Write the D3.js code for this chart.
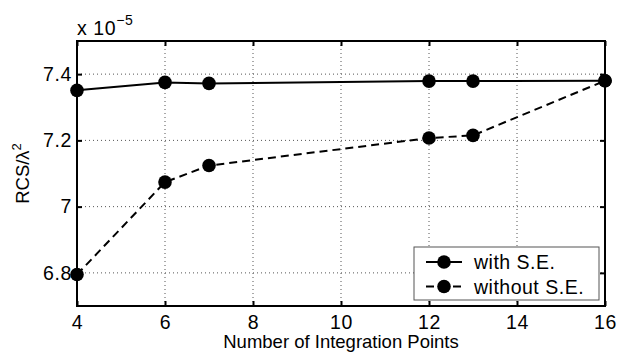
<!DOCTYPE html>
<html>
<head>
<meta charset="utf-8">
<script src="https://cdn.jsdelivr.net/npm/d3@7"></script>
<style>
  body { margin: 0; background: #fff; }
  text { font-family: "Liberation Sans", Arial, sans-serif; fill: #000; }
</style>
</head>
<body>
<script>
// data (values are x 1e-5)
var points = [4, 6, 7, 12, 13, 16];
var withSE = [7.351, 7.375, 7.372, 7.379, 7.379, 7.380];
var withoutSE = [6.795, 7.074, 7.124, 7.207, 7.215, 7.380];
var xTicks = [4, 6, 8, 10, 12, 14, 16];
var yTicks = [6.8, 7, 7.2, 7.4];
var seriesNames = ["with S.E.", "without S.E."];

var W = 619, H = 354;
var m = {left: 77, right: 14, top: 41, bottom: 48};

var svg = d3.select("body").append("svg")
  .attr("width", W).attr("height", H);

var x = d3.scaleLinear().domain([4, 16]).range([m.left, W - m.right]);
var y = d3.scaleLinear().domain([6.7, 7.5]).range([H - m.bottom, m.top]);

var fs = 19.5;

// dotted grid
svg.append("g").selectAll("line").data(xTicks.slice(1, -1)).join("line")
  .attr("x1", d => x(d)).attr("x2", d => x(d))
  .attr("y1", m.top).attr("y2", H - m.bottom)
  .attr("stroke", "#555").attr("stroke-width", 1).attr("stroke-dasharray", "1,3");
svg.append("g").selectAll("line").data(yTicks).join("line")
  .attr("x1", m.left).attr("x2", W - m.right)
  .attr("y1", d => y(d)).attr("y2", d => y(d))
  .attr("stroke", "#555").attr("stroke-width", 1).attr("stroke-dasharray", "1,3");

// axes (ticks inside, like matlab)
svg.append("g").attr("transform", "translate(0," + (H - m.bottom) + ")")
  .call(d3.axisBottom(x).tickValues(xTicks).tickSizeInner(-5).tickSizeOuter(0).tickPadding(9))
  .call(g => g.select(".domain").remove());
svg.append("g").attr("transform", "translate(0," + m.top + ")")
  .call(d3.axisTop(x).tickValues(xTicks).tickSizeInner(-5).tickSizeOuter(0).tickFormat(""))
  .call(g => g.select(".domain").remove());
svg.append("g").attr("transform", "translate(" + m.left + ",0)")
  .call(d3.axisLeft(y).tickValues(yTicks).tickSizeInner(-5).tickSizeOuter(0).tickPadding(5)
    .tickFormat(d => d === 7 ? "7" : d3.format(".1f")(d)))
  .call(g => g.select(".domain").remove());
svg.append("g").attr("transform", "translate(" + (W - m.right) + ",0)")
  .call(d3.axisRight(y).tickValues(yTicks).tickSizeInner(-5).tickSizeOuter(0).tickFormat(""))
  .call(g => g.select(".domain").remove());

svg.selectAll(".tick line").attr("stroke", "#000").attr("stroke-width", 2);
svg.selectAll(".tick text").style("font-size", fs + "px").style("letter-spacing", "0.6px")
  .style("font-family", "'Liberation Sans', Arial, sans-serif").attr("fill", "#000");

// frame
svg.append("rect")
  .attr("x", m.left).attr("y", m.top)
  .attr("width", W - m.left - m.right).attr("height", H - m.top - m.bottom)
  .attr("fill", "none").attr("stroke", "#000").attr("stroke-width", 2);

// series
var line = d3.line().x(d => x(d[0])).y(d => y(d[1]));
var series = [
  {vals: withSE, dash: null},
  {vals: withoutSE, dash: "8,5"}
];
series.forEach(function(s) {
  var pts = points.map((p, i) => [p, s.vals[i]]);
  svg.append("path").datum(pts)
    .attr("d", line).attr("fill", "none")
    .attr("stroke", "#000").attr("stroke-width", 2)
    .attr("stroke-dasharray", s.dash);
  svg.append("g").selectAll("circle").data(pts).join("circle")
    .attr("cx", d => x(d[0])).attr("cy", d => y(d[1])).attr("r", 6.8)
    .attr("fill", "#000");
});

// exponent
var ex = svg.append("text").attr("x", m.left).attr("y", 35)
  .style("font-size", fs + "px").style("letter-spacing", "0.6px");
ex.append("tspan").text("x 10");
ex.append("tspan").attr("dy", -10).style("font-size", "14px").text("\u22125");

// axis labels
svg.append("text").attr("x", (m.left + W - m.right) / 2).attr("y", 348)
  .attr("text-anchor", "middle").style("font-size", "18.5px")
  .text("Number of Integration Points");
var yl = svg.append("text")
  .attr("transform", "translate(29," + ((m.top + H - m.bottom) / 2) + ") rotate(-90)")
  .attr("text-anchor", "middle").style("font-size", "18.5px");
yl.append("tspan").text("RCS/\u03bb");
yl.append("tspan").attr("dy", -8).style("font-size", "13px").text("2");

// legend
var lg = svg.append("g").attr("transform", "translate(414,247)");
lg.append("rect").attr("width", 185).attr("height", 53)
  .attr("fill", "#fff").attr("stroke", "#555").attr("stroke-width", 1);
seriesNames.forEach(function(name, i) {
  var ly = 15 + i * 24.5;
  lg.append("line").attr("x1", 12).attr("x2", 48).attr("y1", ly).attr("y2", ly)
    .attr("stroke", "#000").attr("stroke-width", 2)
    .attr("stroke-dasharray", series[i].dash ? "8,19" : null);
  lg.append("circle").attr("cx", 30).attr("cy", ly).attr("r", 6.8).attr("fill", "#000");
  lg.append("text").attr("x", 60).attr("y", ly + 7)
    .style("font-size", fs + "px").style("letter-spacing", "0.5px").text(name);
});
</script>
</body>
</html>
